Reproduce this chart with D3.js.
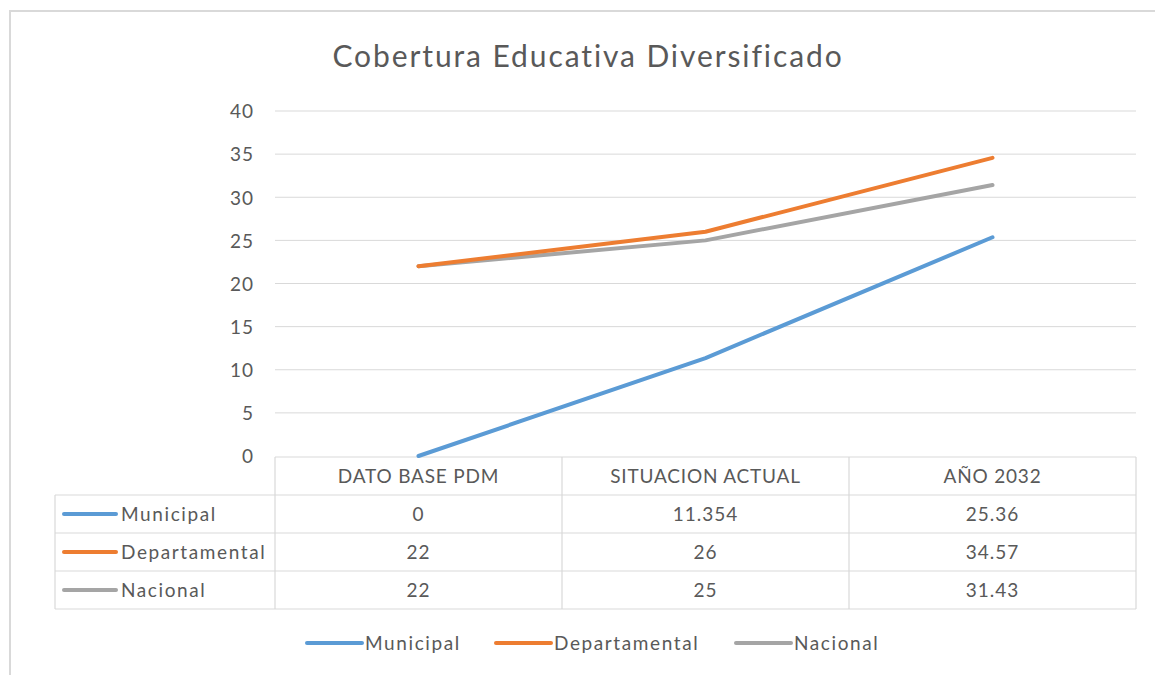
<!DOCTYPE html>
<html>
<head>
<meta charset="utf-8">
<script src="https://cdn.jsdelivr.net/npm/d3@7"></script>
<style>
  body { margin: 0; background: #fff; }
  svg { display: block; font-family: Lato, "Open Sans", sans-serif; }
</style>
</head>
<body>
<svg></svg>
<script>
// Chart data
const categories = ["DATO BASE PDM", "SITUACION ACTUAL", "AÑO 2032"];
const seriesNames = ["Municipal", "Departamental", "Nacional"];
const municipal = [0, 11.354, 25.36];
const departamental = [22, 26, 34.57];
const nacional = [22, 25, 31.43];
const yTicks = [0, 5, 10, 15, 20, 25, 30, 35, 40];

const seriesValues = [municipal, departamental, nacional];
const colors = ["#5b9bd5", "#ed7d31", "#a5a5a5"];
const textColor = "#595959";
const gridColor = "#d9d9d9";

const width = 1155;
const height = 675;

const svg = d3.select("svg").attr("width", width).attr("height", height);

// Outer chart border (frame runs off the right and bottom edges)
svg.append("rect")
  .attr("x", 10).attr("y", 11)
  .attr("width", width + 20).attr("height", height + 20)
  .attr("fill", "none")
  .attr("stroke", gridColor)
  .attr("stroke-width", 2);

// Title
svg.append("text")
  .attr("x", 588).attr("y", 67)
  .attr("text-anchor", "middle")
  .attr("fill", textColor)
  .style("font-size", "30px")
  .style("letter-spacing", "1.9px")
  .text("Cobertura  Educativa Diversificado");

// Scales
const x = d3.scaleBand().domain(categories).range([275, 1136]).padding(0);
const y = d3.scaleLinear().domain([0, 40]).range([456, 111]);

// Gridlines
svg.append("g")
  .selectAll("line")
  .data(yTicks.filter((d) => d > 0))
  .join("line")
  .attr("x1", 275).attr("x2", 1136)
  .attr("y1", (d) => y(d)).attr("y2", (d) => y(d))
  .attr("stroke", gridColor)
  .attr("stroke-width", 1);

// Y axis labels
const yAxis = svg.append("g")
  .attr("transform", "translate(254,0)")
  .call(d3.axisLeft(y).tickValues(yTicks).tickSize(0).tickPadding(0));
yAxis.select(".domain").remove();
yAxis.selectAll("text")
  .attr("fill", textColor)
  .attr("dy", "0.36em")
  .style("font-size", "19px")
  .style("letter-spacing", "1px")
  .style("font-family", "Lato, 'Open Sans', sans-serif");

// Data table
const rowH = 38;
const tableTop = 457;
const tableLeft = 55;
const tableRight = 1136;
const rowTops = d3.range(4).map((i) => tableTop + i * rowH);
const tableBottom = tableTop + 4 * rowH;

const table = svg.append("g")
  .attr("stroke", gridColor)
  .attr("stroke-width", 1.2);

// Header row top line (only over category columns)
table.append("line")
  .attr("x1", 275).attr("x2", tableRight)
  .attr("y1", tableTop).attr("y2", tableTop);

// Horizontal lines for series rows
table.selectAll("line.h")
  .data(rowTops.slice(1).concat([tableBottom]))
  .join("line")
  .attr("class", "h")
  .attr("x1", tableLeft).attr("x2", tableRight)
  .attr("y1", (d) => d).attr("y2", (d) => d);

// Vertical lines
const colEdges = categories.map((c) => x(c)).concat([x.range()[1]]);
table.selectAll("line.v")
  .data(colEdges)
  .join("line")
  .attr("class", "v")
  .attr("x1", (d) => d).attr("x2", (d) => d)
  .attr("y1", tableTop).attr("y2", tableBottom);

table.append("line")
  .attr("x1", tableLeft).attr("x2", tableLeft)
  .attr("y1", tableTop + rowH).attr("y2", tableBottom);

// Header labels
svg.append("g")
  .selectAll("text")
  .data(categories)
  .join("text")
  .attr("x", (d) => x(d) + x.bandwidth() / 2)
  .attr("y", tableTop + rowH / 2 + 7)
  .attr("text-anchor", "middle")
  .attr("fill", textColor)
  .style("font-size", "19px")
  .style("letter-spacing", "0.8px")
  .text((d) => d);

// Series rows: legend key + name + values
seriesNames.forEach((name, i) => {
  const cy = rowTops[i + 1] + rowH / 2;
  svg.append("line")
    .attr("x1", 64).attr("x2", 116)
    .attr("y1", cy).attr("y2", cy)
    .attr("stroke", colors[i])
    .attr("stroke-width", 4)
    .attr("stroke-linecap", "round");
  svg.append("text")
    .attr("x", 121).attr("y", cy + 7)
    .attr("fill", textColor)
    .style("font-size", "19px")
    .style("letter-spacing", "1.6px")
    .text(name);
  svg.append("g")
    .selectAll("text")
    .data(seriesValues[i])
    .join("text")
    .attr("x", (d, j) => x(categories[j]) + x.bandwidth() / 2)
    .attr("y", cy + 7)
    .attr("text-anchor", "middle")
    .attr("fill", textColor)
    .style("font-size", "19px")
    .style("letter-spacing", "1px")
    .text((d) => d);
});

// Lines
const line = d3.line()
  .x((d, j) => x(categories[j]) + x.bandwidth() / 2)
  .y((d) => y(d));

svg.append("g")
  .selectAll("path")
  .data(seriesValues.slice().reverse())
  .join("path")
  .attr("d", line)
  .attr("fill", "none")
  .attr("stroke", (d, i) => colors[2 - i])
  .attr("stroke-width", 4)
  .attr("stroke-linecap", "round")
  .attr("stroke-linejoin", "round");

// Bottom legend
const legendX = [307, 496, 736];
const legend = svg.append("g");
seriesNames.forEach((name, i) => {
  legend.append("line")
    .attr("x1", legendX[i]).attr("x2", legendX[i] + 55)
    .attr("y1", 643).attr("y2", 643)
    .attr("stroke", colors[i])
    .attr("stroke-width", 4)
    .attr("stroke-linecap", "round");
  legend.append("text")
    .attr("x", legendX[i] + 58).attr("y", 650)
    .attr("fill", textColor)
    .style("font-size", "19px")
    .style("letter-spacing", "1.6px")
    .text(name);
});
</script>
</body>
</html>
